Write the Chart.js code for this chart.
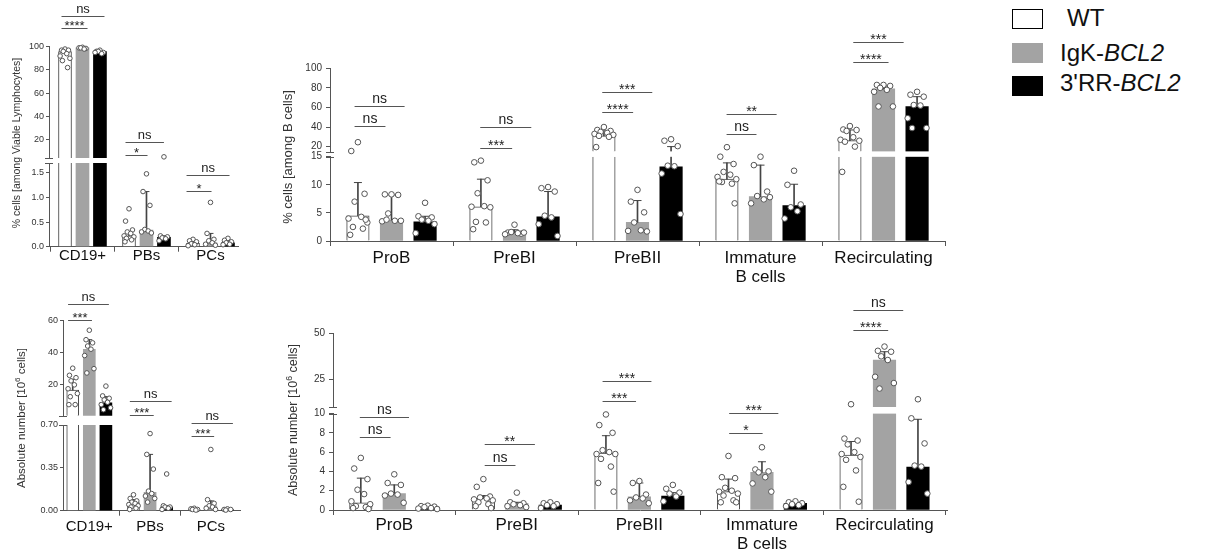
<!DOCTYPE html>
<html>
<head>
<meta charset="utf-8">
<script src="https://cdn.jsdelivr.net/npm/chart.js@4.4.0/dist/chart.umd.min.js"></script>
<style>
  body { margin: 0; background: #fff; width: 1207px; height: 551px; position: relative; overflow: hidden;
         font-family: 'Liberation Sans', Arial, sans-serif; }
  canvas { position: absolute; }
  .ytitle { position: absolute; white-space: nowrap; color: #333; transform: translate(-50%, -50%) rotate(-90deg); }
  .ytitle sup { font-size: 70%; }
  .legBox { position: absolute; left: 1012px; width: 31px; height: 20px; box-sizing: border-box; }
  .legTxt { position: absolute; font-size: 24px; line-height: 24px; color: #111; white-space: nowrap; }
</style>
</head>
<body>
<canvas id="aTop"></canvas><canvas id="aBot"></canvas>
<canvas id="bTop"></canvas><canvas id="bBot"></canvas>
<canvas id="cTop"></canvas><canvas id="cBot"></canvas>
<canvas id="dTop"></canvas><canvas id="dBot"></canvas>

<div class="ytitle" style="left:16px; top:143px; font-size:10.5px;">% cells [among Viable Lymphocytes]</div>
<div class="ytitle" style="left:287px; top:157px; font-size:13px;">% cells [among B cells]</div>
<div class="ytitle" style="left:20px; top:418px; font-size:11.5px;">Absolute number [10<sup>6</sup> cells]</div>
<div class="ytitle" style="left:292px; top:420px; font-size:12.5px;">Absolute number [10<sup>6</sup> cells]</div>

<div class="legBox" style="top:9px; background:#fff; border:1.5px solid #000;"></div>
<div class="legBox" style="top:43px; background:#a3a3a3;"></div>
<div class="legBox" style="top:76px; background:#000;"></div>
<div class="legTxt" style="left:1067px; top:6px;">WT</div>
<div class="legTxt" style="left:1060px; top:41px;">IgK-<i>BCL2</i></div>
<div class="legTxt" style="left:1060px; top:71px;">3'RR-<i>BCL2</i></div>

<script>
Chart.defaults.font.family = "'Liberation Sans', Arial, sans-serif";

// ---- panel A : % among viable lymphocytes ----
const catsA = ['CD19+', 'PBs', 'PCs'];
const aWT = [95.7, 0.22, 0.07];
const aIgK = [99, 0.34, 0.08];
const aRR = [95.7, 0.19, 0.08];
const aWTup = [98, 0.3, 0.1];
const aIgKup = [99.5, 1.12, 0.27];
const aRRup = [96.5, 0.22, 0.12];
const aWTdots = [[98, 97, 97, 96, 94, 92, 90, 88, 82], [0.77, 0.52, 0.34, 0.3, 0.27, 0.22, 0.2, 0.17, 0.14, 0.1], [0.15, 0.12, 0.1, 0.06, 0.04, 0.02]];
const aIgKdots = [[99.5, 99, 98.5, 99, 98], [1.48, 1.12, 0.84, 0.35, 0.32, 0.3, 0.28], [0.9, 0.27, 0.15, 0.12, 0.08, 0.05, 0.03]];
const aRRdots = [[97, 96, 95, 96, 94, 95], [5, 0.22, 0.2, 0.18, 0.16, 0.12], [0.17, 0.13, 0.1, 0.08, 0.05, 0.04]];
const aTopTicks = [20, 40, 60, 80, 100];
const aBotTicks = [0, 0.5, 1.0, 1.5];
// [segment, category, from group, to group, height, text]
const aNotes = [
  ['top', 0, -0.2, 2.26, 126.7, 'ns'], ['top', 0, -0.2, 1.29, 115.9, '****'],
  ['top', 1, -0.2, 2.0, 18, 'ns'], ['top', 1, -0.2, 1.06, 6.6, '*'],
  ['bot', 2, -0.37, 2.09, 1.45, 'ns'], ['bot', 2, -0.37, 1.06, 1.13, '*']
];

// ---- panel B : % among B cells ----
const catsB = ['ProB', 'PreBI', 'PreBII', ['Immature', 'B cells'], 'Recirculating'];
const bWT = [4.5, 6.1, 31, 11.0, 26.1];
const bIgK = [3.7, 1.5, 3.3, 7.9, 79];
const bRR = [3.4, 4.3, 13.2, 6.3, 61];
const bWTup = [10.4, 11.0, 36, 13.9, 37];
const bIgKup = [8.2, 2.0, 7.2, 13.5, 82];
const bRRup = [4.4, 8.8, 20, 10.1, 71];
const bWTdots = [[24.5, 15.5, 8.4, 7.0, 4.3, 4.0, 3.3, 2.5, 2.2, 1.1, 3.8], [14.3, 14.0, 10.8, 8.5, 6.2, 6.1, 6.0, 3.4, 3.3, 2.1], [40, 37, 36, 35, 34, 33, 32, 31, 30, 19.5], [19.4, 15, 13.7, 12.3, 11.8, 11.4, 11.0, 10.5, 10.2, 10.6, 6.7], [41, 37.5, 37, 36, 29.6, 27, 26, 25, 20, 12.3]];
const bIgKdots = [[8.3, 8.3, 8.2, 4.9, 3.6, 3.5, 3.6, 3.8], [2.9, 1.5, 1.3, 1.6, 1.4, 1.2, 1.5], [9.1, 7.0, 5.1, 3.3, 1.9, 1.8, 1.7], [15, 13.5, 8.8, 8.0, 7.4, 6.7, 7.8], [83, 83, 82, 80, 78, 76, 61, 61]];
const bRRdots = [[6.8, 4.4, 4.2, 3.8, 3.6, 1.4, 3.0], [9.6, 9.4, 8.8, 4.5, 4.2, 3.0, 0.9], [27.5, 26, 20.5, 13.4, 13.3, 12, 4.8], [12.5, 10.0, 6.5, 6.0, 5.3, 4.0], [76, 73, 71, 62.5, 62, 49, 39, 39]];
const bTopTicks = [20, 40, 60, 80, 100];
const bBotTicks = [0, 5, 10, 15];
const bNotes = [
  ['top', 0, -0.1, 1.39, 61.6, 'ns'], ['top', 0, -0.1, 0.82, 41.1, 'ns'],
  ['top', 1, -0.02, 1.5, 40.4, 'ns'], ['top', 1, -0.02, 0.93, 19.0, '***'],
  ['top', 2, -0.05, 1.44, 76.2, '***'], ['top', 2, -0.05, 0.87, 55.8, '****'],
  ['top', 3, -0.01, 1.48, 53.4, '**'], ['top', 3, -0.01, 0.88, 33, 'ns'],
  ['top', 4, 0.1, 1.6, 126.6, '***'], ['top', 4, 0.1, 1.15, 106.5, '****']
];

// ---- panel C : absolute numbers, lymphocytes ----
const catsC = ['CD19+', 'PBs', 'PCs'];
const cWT = [16.2, 0.066, 0.01];
const cIgK = [41.9, 0.15, 0.04];
const cRR = [8.2, 0.03, 0.01];
const cWTup = [23, 0.09, 0.015];
const cIgKup = [48, 0.46, 0.08];
const cRRup = [12, 0.04, 0.012];
const cWTdots = [[30, 25.5, 24, 22, 19.5, 17, 14, 12, 7, 7], [0.13, 0.1, 0.08, 0.07, 0.06, 0.05, 0.04, 0.03, 0.02, 0.01], [0.02, 0.015, 0.01, 0.01, 0.005]];
const cIgKdots = [[54, 48, 46, 44, 42, 38, 29.7, 27], [0.63, 0.46, 0.34, 0.16, 0.14, 0.12, 0.1, 0.07], [0.5, 0.09, 0.06, 0.04, 0.03, 0.02, 0.01]];
const cRRdots = [[18.7, 12.5, 11, 10, 8.5, 7, 5, 3.8], [0.3, 0.04, 0.03, 0.03, 0.02, 0.01], [0.015, 0.01, 0.01, 0.005]];
const cTopTicks = [20, 40, 60];
const cBotTicks = [0, 0.35, 0.70];
const cNotes = [
  ['top', 0, -0.28, 2.18, 70.3, 'ns'], ['top', 0, -0.28, 1.16, 60.4, '***'],
  ['top', 1, -0.22, 2.3, 9.5, 'ns'], ['bot', 1, -0.22, 1.22, 0.78, '***'],
  ['bot', 2, -0.16, 2.33, 0.72, 'ns'], ['bot', 2, -0.16, 1.2, 0.61, '***']
];

// ---- panel D : absolute numbers, B cells ----
const catsD = ['ProB', 'PreBI', 'PreBII', ['Immature', 'B cells'], 'Recirculating'];
const dWT = [0.75, 1.2, 5.9, 1.9, 5.7];
const dIgK = [1.7, 0.7, 1.37, 3.9, 35.5];
const dRR = [0.3, 0.5, 1.45, 0.7, 4.46];
const dWTup = [3.3, 1.5, 7.7, 3.2, 7.1];
const dIgKup = [2.6, 0.8, 2.8, 5.0, 40];
const dRRup = [0.4, 0.6, 1.8, 0.8, 9.4];
const dWTdots = [[5.4, 4.3, 3.2, 2.1, 1.65, 0.9, 0.6, 0.4, 0.3, 0.2, 0.1], [3.2, 2.4, 1.4, 1.3, 1.2, 1.1, 1.0, 0.8, 0.6, 0.4, 0.2], [9.9, 8.8, 8.0, 6.2, 6.0, 5.8, 5.8, 5.3, 4.5, 2.8, 1.9], [5.6, 3.4, 3.3, 2.3, 2.0, 1.9, 1.7, 1.5, 1.0, 0.8, 0.8], [11.5, 7.4, 7.2, 6.8, 6.0, 5.8, 5.5, 5.2, 4.1, 2.4, 0.86]];
const dIgKdots = [[3.7, 2.8, 2.6, 1.7, 1.6, 1.5, 0.75], [1.8, 0.8, 0.7, 0.6, 0.5, 0.4, 0.3], [3.0, 2.8, 1.6, 1.3, 1.2, 1.0, 0.7], [6.5, 4.2, 4.0, 3.9, 3.4, 2.75, 1.9], [42.8, 40.5, 40, 37.5, 35.5, 26.4, 23, 20]];
const dRRdots = [[0.45, 0.4, 0.35, 0.3, 0.2, 0.15, 0.1], [0.8, 0.7, 0.6, 0.5, 0.4, 0.2], [2.6, 2.2, 1.8, 1.7, 1.4, 0.9], [0.9, 0.8, 0.7, 0.6, 0.5, 0.4], [14.2, 9.5, 6.9, 4.6, 4.5, 2.9, 1.7]];
const dTopTicks = [25, 50];
const dBotTicks = [0, 2, 4, 6, 8, 10];
const dNotes = [
  ['bot', 0, -0.03, 1.44, 9.64, 'ns'], ['bot', 0, -0.03, 0.89, 7.6, 'ns'],
  ['bot', 1, 0.04, 1.54, 6.8, '**'], ['bot', 1, 0.04, 0.96, 4.66, 'ns'],
  ['top', 2, -0.1, 1.36, 24.3, '***'], ['top', 2, -0.1, 0.9, 13.4, '***'],
  ['bot', 3, 0.02, 1.49, 10.08, '***'], ['bot', 3, 0.02, 1.02, 8.0, '*'],
  ['top', 4, 0.07, 1.56, 62.7, 'ns'], ['top', 4, 0.07, 1.11, 51.8, '****']
];

// styles
const barFill = ['#ffffff', '#a3a3a3', '#000000'];
const barLine = ['#444444', '#a3a3a3', '#000000'];
const AXIS = '#555';
const step = 0.273;   // spacing of the 3 genotypes inside a category
const jitter = [0, -0.06, 0.06, -0.03, 0.03, -0.085, 0.085, -0.045, 0.045, -0.07, 0.07, 0.015];
const YW = 40;        // width kept for the y axis

function notesPlugin(notes, seg, size) {
  return {
    id: 'notes',
    afterDraw(chart) {
      const ctx = chart.ctx, xs = chart.scales.x, ys = chart.scales.y;
      ctx.save();
      notes.filter(n => n[0] === seg).forEach(n => {
        const x0 = xs.getPixelForValue(n[1] + (n[2] - 1) * step);
        const x1 = xs.getPixelForValue(n[1] + (n[3] - 1) * step);
        const y = Math.round(ys.getPixelForValue(n[4])) + 0.5;
        ctx.strokeStyle = AXIS;
        ctx.lineWidth = 1;
        ctx.beginPath();
        ctx.moveTo(x0, y);
        ctx.lineTo(x1, y);
        ctx.stroke();
        ctx.fillStyle = '#222';
        ctx.font = size + "px 'Liberation Sans', Arial, sans-serif";
        ctx.textAlign = 'center';
        ctx.textBaseline = 'alphabetic';
        const star = n[5].indexOf('*') >= 0;
        ctx.fillText(n[5], (x0 + x1) / 2, star ? y + 1 : y - 4);
      });
      ctx.restore();
    }
  };
}

// little marks where the y axis is broken
function breakPlugin(seg) {
  return {
    id: 'axisBreak',
    afterDraw(chart) {
      const ctx = chart.ctx, a = chart.chartArea;
      const y = Math.round(seg === 'top' ? a.bottom : a.top) + 0.5;
      ctx.save();
      ctx.strokeStyle = AXIS;
      ctx.lineWidth = 1;
      ctx.beginPath();
      ctx.moveTo(a.left - 4, y);
      ctx.lineTo(a.left + 4, y);
      ctx.stroke();
      ctx.restore();
    }
  };
}

function makeSegment(p, seg) {
  const s = p[seg];
  const isBot = seg === 'bot';
  const canvas = document.getElementById(p.id + (isBot ? 'Bot' : 'Top'));
  canvas.width = p.reg.w;
  canvas.height = p.reg.h;
  canvas.style.left = p.reg.x + 'px';
  canvas.style.top = p.reg.y + 'px';

  const lowMax = p.bot.max;
  const inSeg = v => isBot ? v <= lowMax : v > lowMax;
  // the upper segment only shows what goes past the lower one
  const reach = isBot ? s.min : lowMax;
  const xh = p.reg.y + p.reg.h - p.bot.b;   // room under the lower axis for the names
  const datasets = [];

  for (let g = 0; g < 3; g++) {
    // bar cut to the part that falls inside this segment
    const bars = [];
    const whisk = [];
    p.cats.forEach((c, i) => {
      const x = i + (g - 1) * step;
      const v = p.means[g][i];
      const up = p.ups[g][i];
      if (v > reach) bars.push({ x: x, y: [s.min, Math.min(v, s.max)], cut: v > s.max });
      if (up > reach && v < s.max) whisk.push({ x: x, y: [Math.max(v, s.min), Math.min(up, s.max)] });
    });
    datasets.push({
      type: 'bar',
      data: bars,
      backgroundColor: barFill[g],
      borderColor: barLine[g],
      borderSkipped: false,
      borderWidth: c => (g === 0 && c.raw) ? { left: 1, right: 1, top: c.raw.cut ? 0 : 1, bottom: 0 } : 0,
      barThickness: p.barW,
      grouped: false,
      order: 4
    });
    // error bar: line from the bar top to the upper value
    datasets.push({
      type: 'bar',
      data: whisk,
      backgroundColor: '#444',
      borderWidth: 0,
      barThickness: 1,
      grouped: false,
      order: 3
    });
    datasets.push({
      type: 'scatter',
      data: p.cats.map((c, i) => ({ x: i + (g - 1) * step, y: p.ups[g][i] })).filter(d => inSeg(d.y)),
      pointStyle: 'line',
      pointRadius: p.capR,
      pointBorderColor: '#444',
      pointBorderWidth: 1,
      clip: false,
      order: 2
    });
  }

  const pts = [];
  for (let g = 0; g < 3; g++) {
    p.dots[g].forEach((list, i) => {
      list.forEach((v, k) => {
        if (inSeg(v)) pts.push({ x: i + (g - 1) * step + jitter[k % jitter.length] * p.spread, y: v });
      });
    });
  }
  datasets.push({
    type: 'scatter',
    data: pts,
    pointRadius: p.dotR,
    pointBackgroundColor: '#fff',
    pointBorderColor: '#555',
    pointBorderWidth: 1,
    clip: false,
    order: 1
  });

  const pad = {
    left: p.area.l - p.reg.x - YW,
    right: p.reg.x + p.reg.w - p.area.r,
    top: s.t - p.reg.y,
    bottom: isBot ? 0 : p.reg.y + p.reg.h - s.b
  };

  const xScale = {
    type: 'linear',
    display: isBot,
    min: p.xmin,
    max: p.xmax,
    offset: false,
    afterBuildTicks: sc => { sc.ticks = p.cats.map((c, i) => ({ value: i })); },
    grid: { drawOnChartArea: false, drawTicks: true, tickLength: 5, color: AXIS },
    border: { display: true, color: AXIS, width: 1 },
    ticks: {
      callback: (v, i) => p.cats[i],
      autoSkip: false,
      maxRotation: 0,
      padding: p.catPad,
      color: '#111',
      font: { size: p.catSize, lineHeight: p.catLh }
    }
  };
  if (isBot) xScale.afterFit = sc => { sc.height = xh; };

  new Chart(canvas, {
    type: 'bar',
    data: { datasets: datasets },
    options: {
      responsive: false,
      animation: false,
      events: [],
      layout: { padding: pad },
      plugins: { legend: { display: false }, tooltip: { enabled: false } },
      scales: {
        x: xScale,
        y: {
          type: 'linear',
          min: s.min,
          max: s.max,
          afterFit: sc => { sc.width = YW; },
          afterBuildTicks: sc => { sc.ticks = s.ticks.map(v => ({ value: v })); },
          grid: { drawOnChartArea: false, drawTicks: true, tickLength: p.tickLen, color: AXIS },
          border: { display: true, color: AXIS, width: 1 },
          ticks: {
            callback: v => s.fmt(v),
            padding: p.tickPad,
            color: '#333',
            font: { size: p.tickSize }
          }
        }
      }
    },
    plugins: [notesPlugin(p.notes, seg, p.noteSize), breakPlugin(seg)]
  });
}

const whole = v => String(v);

const panels = [
  {
    id: 'a', reg: { x: 0, y: 0, w: 245, h: 275 }, area: { l: 49, r: 238 }, xmin: -0.523, xmax: 2.43,
    cats: catsA, means: [aWT, aIgK, aRR], ups: [aWTup, aIgKup, aRRup], dots: [aWTdots, aIgKdots, aRRdots],
    top: { min: 4, max: 100, t: 46.7, b: 158, ticks: aTopTicks, fmt: whole },
    bot: { min: 0, max: 1.7, t: 163, b: 246.7, ticks: aBotTicks, fmt: v => v.toFixed(1) },
    notes: aNotes, barW: 13, dotR: 2.3, capR: 3, spread: 0.9,
    catSize: 15, catLh: 1.0, catPad: -3, tickSize: 9, tickLen: 3, tickPad: 2, noteSize: 13
  },
  {
    id: 'b', reg: { x: 240, y: 0, w: 720, h: 290 }, area: { l: 330, r: 945 }, xmin: -0.5, xmax: 4.5,
    cats: catsB, means: [bWT, bIgK, bRR], ups: [bWTup, bIgKup, bRRup], dots: [bWTdots, bIgKdots, bRRdots],
    top: { min: 15, max: 100, t: 68.3, b: 151.5, ticks: bTopTicks, fmt: whole },
    bot: { min: 0, max: 15, t: 156.7, b: 241, ticks: bBotTicks, fmt: whole },
    notes: bNotes, barW: 22.5, dotR: 2.8, capR: 4, spread: 0.9,
    catSize: 17, catLh: 1.1, catPad: 3, tickSize: 10, tickLen: 4, tickPad: 4, noteSize: 14
  },
  {
    id: 'c', reg: { x: 0, y: 280, w: 245, h: 271 }, area: { l: 63, r: 240 }, xmin: -0.433, xmax: 2.48,
    cats: catsC, means: [cWT, cIgK, cRR], ups: [cWTup, cIgKup, cRRup], dots: [cWTdots, cIgKdots, cRRdots],
    top: { min: 0, max: 60, t: 320.7, b: 415.7, ticks: cTopTicks, fmt: whole },
    bot: { min: 0, max: 0.70, t: 425, b: 510.7, ticks: cBotTicks, fmt: v => v.toFixed(2) },
    notes: cNotes, barW: 12, dotR: 2.3, capR: 3, spread: 0.9,
    catSize: 15, catLh: 1.0, catPad: 4, tickSize: 9, tickLen: 3, tickPad: 2, noteSize: 13
  },
  {
    id: 'd', reg: { x: 240, y: 290, w: 720, h: 261 }, area: { l: 333, r: 947 }, xmin: -0.5, xmax: 4.51,
    cats: catsD, means: [dWT, dIgK, dRR], ups: [dWTup, dIgKup, dRRup], dots: [dWTdots, dIgKdots, dRRdots],
    top: { min: 10, max: 50, t: 333.3, b: 407, ticks: dTopTicks, fmt: whole },
    bot: { min: 0, max: 10, t: 413.5, b: 510, ticks: dBotTicks, fmt: whole },
    notes: dNotes, barW: 22.5, dotR: 2.8, capR: 4, spread: 0.9,
    catSize: 17, catLh: 1.1, catPad: 1, tickSize: 10, tickLen: 4, tickPad: 4, noteSize: 14
  }
];

panels.forEach(p => {
  makeSegment(p, 'top');
  makeSegment(p, 'bot');
});
</script>
</body>
</html>
